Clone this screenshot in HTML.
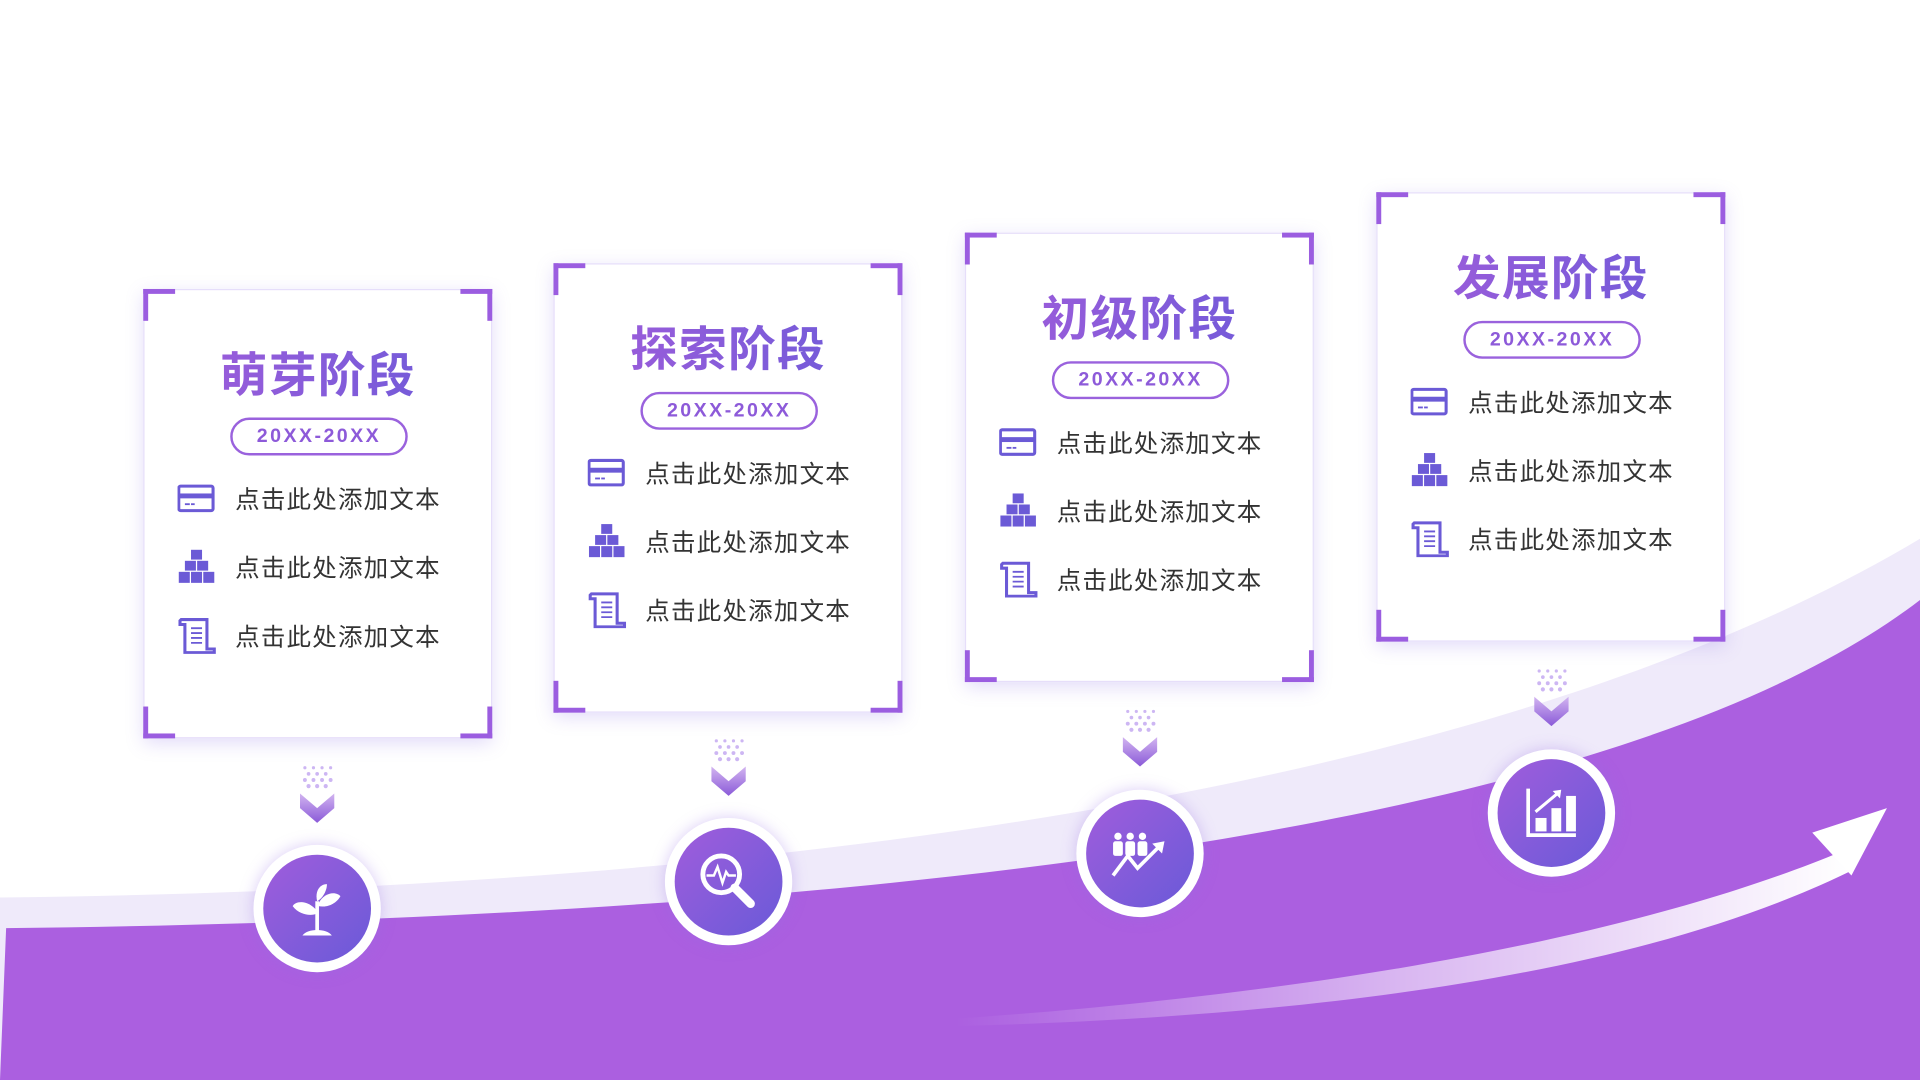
<!DOCTYPE html>
<html><head><meta charset="utf-8"><style>
html,body{margin:0;padding:0;width:1920px;height:1080px;overflow:hidden;background:#fff}
#s{position:absolute;left:0;top:0;width:1568px;height:882px;transform:scale(1.22449);transform-origin:0 0;font-family:"Liberation Sans","Noto Sans CJK SC",sans-serif}
.card{position:absolute;width:285px;height:367px;background:#fff;box-shadow:0 4px 14px rgba(140,110,230,.25);border:1px solid #e6defa;box-sizing:border-box}
.c{position:absolute;width:22px;height:22px;border-color:#9b5de0;border-style:solid;border-width:0}
.tl{left:-1px;top:-1px;border-left-width:4px;border-top-width:4px}
.tr{right:-1px;top:-1px;border-right-width:4px;border-top-width:4px}
.bl{left:-1px;bottom:-1px;border-left-width:4px;border-bottom-width:4px}
.br{right:-1px;bottom:-1px;border-right-width:4px;border-bottom-width:4px}
.t{position:absolute;left:0;width:100%;top:46px;text-align:center;font-size:39px;font-weight:bold;line-height:50px;background:linear-gradient(90deg,#a35cda,#6a5bd9);-webkit-background-clip:text;background-clip:text;color:transparent;letter-spacing:1px}
.p{position:absolute;left:70px;top:104px;width:141px;height:27px;border:2px solid #9a62dd;border-radius:16px;text-align:center;line-height:27px;font-size:16px;font-weight:bold;color:#8d5ad9;letter-spacing:2px}
.r{position:absolute;left:74px;font-size:20px;color:#333;line-height:24px;letter-spacing:1px}
.ic{position:absolute;left:27px;width:32px;height:30px}
.circ{position:absolute;width:104px;height:104px;border-radius:50%;background:#fff;box-shadow:0 0 12px rgba(150,110,230,.35)}
.circ .in{position:absolute;left:8px;top:8px;width:88px;height:88px;border-radius:50%;background:linear-gradient(135deg,#a05ddc,#6a5ad8)}
.circ svg{position:absolute;left:24px;top:24px}
.ar{position:absolute;width:30px;height:52px}
</style></head><body><div id="s">
<svg width="1568" height="882" style="position:absolute;left:0;top:0">
<defs><linearGradient id="wa" x1="0" x2="1" y1="0" y2="0"><stop offset="0" stop-color="#fff" stop-opacity="0"/><stop offset=".5" stop-color="#fff" stop-opacity=".55"/><stop offset="1" stop-color="#fff"/></linearGradient></defs>
<path d="M0,733 C700,725 1250,630 1568,440 L1568,882 L0,882Z" fill="#efeafa"/>
<path d="M5,758 C700,750 1320,680 1568,490 L1568,882 L0,882Z" fill="#ab5fe0"/>
<path d="M780,832 C1100,810 1350,760 1505,695 L1510,712 C1350,790 1100,830 780,838Z" fill="url(#wa)"/>
<path d="M1480,680 L1541,660 L1512,715Z" fill="#fff"/>
</svg>

<!-- cards -->
<div class="card" style="left:117px;top:236px"><i class="c tl"></i><i class="c tr"></i><i class="c bl"></i><i class="c br"></i><div class="t">萌芽阶段</div><div class="p">20XX-20XX</div>
<svg class="ic" style="top:157px" viewBox="0 0 32 30"><rect x="1" y="3" width="28" height="20" rx="1.5" fill="none" stroke="#6b5ad6" stroke-width="2.5"/><rect x="1" y="9" width="28" height="4" fill="#6b5ad6"/><rect x="6" y="17" width="4" height="1.5" fill="#6b5ad6"/><rect x="11" y="17" width="3" height="1.5" fill="#6b5ad6"/></svg><div class="r" style="top:160px">点击此处添加文本</div>
<svg class="ic" style="top:211px" viewBox="0 0 32 30"><rect x="11" y="1" width="9" height="8" fill="#6b5ad6"/><rect x="6" y="10" width="9" height="8" fill="#6b5ad6"/><rect x="16" y="10" width="9" height="8" fill="#6b5ad6"/><rect x="1" y="19" width="9" height="9" fill="#6b5ad6"/><rect x="11" y="19" width="9" height="9" fill="#6b5ad6"/><rect x="21" y="19" width="9" height="9" fill="#6b5ad6"/></svg><div class="r" style="top:216px">点击此处添加文本</div>
<svg class="ic" style="top:267px" viewBox="0 0 32 30"><path d="M3,2 H24 V26 H30 V29 H6 V6 H2 V3Z" fill="none" stroke="#6b5ad6" stroke-width="2.5"/><path d="M11,9H20M11,13H20M11,17H20M11,21H20" stroke="#6b5ad6" stroke-width="1.5"/></svg><div class="r" style="top:272px">点击此处添加文本</div></div>

<div class="card" style="left:452px;top:215px"><i class="c tl"></i><i class="c tr"></i><i class="c bl"></i><i class="c br"></i><div class="t">探索阶段</div><div class="p">20XX-20XX</div>
<svg class="ic" style="top:157px" viewBox="0 0 32 30"><rect x="1" y="3" width="28" height="20" rx="1.5" fill="none" stroke="#6b5ad6" stroke-width="2.5"/><rect x="1" y="9" width="28" height="4" fill="#6b5ad6"/><rect x="6" y="17" width="4" height="1.5" fill="#6b5ad6"/><rect x="11" y="17" width="3" height="1.5" fill="#6b5ad6"/></svg><div class="r" style="top:160px">点击此处添加文本</div>
<svg class="ic" style="top:211px" viewBox="0 0 32 30"><rect x="11" y="1" width="9" height="8" fill="#6b5ad6"/><rect x="6" y="10" width="9" height="8" fill="#6b5ad6"/><rect x="16" y="10" width="9" height="8" fill="#6b5ad6"/><rect x="1" y="19" width="9" height="9" fill="#6b5ad6"/><rect x="11" y="19" width="9" height="9" fill="#6b5ad6"/><rect x="21" y="19" width="9" height="9" fill="#6b5ad6"/></svg><div class="r" style="top:216px">点击此处添加文本</div>
<svg class="ic" style="top:267px" viewBox="0 0 32 30"><path d="M3,2 H24 V26 H30 V29 H6 V6 H2 V3Z" fill="none" stroke="#6b5ad6" stroke-width="2.5"/><path d="M11,9H20M11,13H20M11,17H20M11,21H20" stroke="#6b5ad6" stroke-width="1.5"/></svg><div class="r" style="top:272px">点击此处添加文本</div></div>

<div class="card" style="left:788px;top:190px"><i class="c tl"></i><i class="c tr"></i><i class="c bl"></i><i class="c br"></i><div class="t">初级阶段</div><div class="p">20XX-20XX</div>
<svg class="ic" style="top:157px" viewBox="0 0 32 30"><rect x="1" y="3" width="28" height="20" rx="1.5" fill="none" stroke="#6b5ad6" stroke-width="2.5"/><rect x="1" y="9" width="28" height="4" fill="#6b5ad6"/><rect x="6" y="17" width="4" height="1.5" fill="#6b5ad6"/><rect x="11" y="17" width="3" height="1.5" fill="#6b5ad6"/></svg><div class="r" style="top:160px">点击此处添加文本</div>
<svg class="ic" style="top:211px" viewBox="0 0 32 30"><rect x="11" y="1" width="9" height="8" fill="#6b5ad6"/><rect x="6" y="10" width="9" height="8" fill="#6b5ad6"/><rect x="16" y="10" width="9" height="8" fill="#6b5ad6"/><rect x="1" y="19" width="9" height="9" fill="#6b5ad6"/><rect x="11" y="19" width="9" height="9" fill="#6b5ad6"/><rect x="21" y="19" width="9" height="9" fill="#6b5ad6"/></svg><div class="r" style="top:216px">点击此处添加文本</div>
<svg class="ic" style="top:267px" viewBox="0 0 32 30"><path d="M3,2 H24 V26 H30 V29 H6 V6 H2 V3Z" fill="none" stroke="#6b5ad6" stroke-width="2.5"/><path d="M11,9H20M11,13H20M11,17H20M11,21H20" stroke="#6b5ad6" stroke-width="1.5"/></svg><div class="r" style="top:272px">点击此处添加文本</div></div>

<div class="card" style="left:1124px;top:157px"><i class="c tl"></i><i class="c tr"></i><i class="c bl"></i><i class="c br"></i><div class="t">发展阶段</div><div class="p">20XX-20XX</div>
<svg class="ic" style="top:157px" viewBox="0 0 32 30"><rect x="1" y="3" width="28" height="20" rx="1.5" fill="none" stroke="#6b5ad6" stroke-width="2.5"/><rect x="1" y="9" width="28" height="4" fill="#6b5ad6"/><rect x="6" y="17" width="4" height="1.5" fill="#6b5ad6"/><rect x="11" y="17" width="3" height="1.5" fill="#6b5ad6"/></svg><div class="r" style="top:160px">点击此处添加文本</div>
<svg class="ic" style="top:211px" viewBox="0 0 32 30"><rect x="11" y="1" width="9" height="8" fill="#6b5ad6"/><rect x="6" y="10" width="9" height="8" fill="#6b5ad6"/><rect x="16" y="10" width="9" height="8" fill="#6b5ad6"/><rect x="1" y="19" width="9" height="9" fill="#6b5ad6"/><rect x="11" y="19" width="9" height="9" fill="#6b5ad6"/><rect x="21" y="19" width="9" height="9" fill="#6b5ad6"/></svg><div class="r" style="top:216px">点击此处添加文本</div>
<svg class="ic" style="top:267px" viewBox="0 0 32 30"><path d="M3,2 H24 V26 H30 V29 H6 V6 H2 V3Z" fill="none" stroke="#6b5ad6" stroke-width="2.5"/><path d="M11,9H20M11,13H20M11,17H20M11,21H20" stroke="#6b5ad6" stroke-width="1.5"/></svg><div class="r" style="top:272px">点击此处添加文本</div></div>

<!-- chevrons -->
<svg width="0" height="0" style="position:absolute"><defs><linearGradient id="cg" x1="0" y1="0" x2="0" y2="1"><stop offset="0" stop-color="#d2b4f0"/><stop offset="1" stop-color="#8a5ad8"/></linearGradient>
<g id="chev"><g fill="#b898ee" opacity=".7"><circle cx="5" cy="3" r="1.3"/><circle cx="12" cy="3" r="1.3"/><circle cx="19" cy="3" r="1.3"/><circle cx="26" cy="3" r="1.3"/><circle cx="8" cy="8" r="1.5"/><circle cx="15" cy="8" r="1.5"/><circle cx="22" cy="8" r="1.5"/><circle cx="5" cy="13" r="1.6"/><circle cx="12" cy="13" r="1.6"/><circle cx="19" cy="13" r="1.6"/><circle cx="26" cy="13" r="1.6"/><circle cx="8" cy="18" r="1.7"/><circle cx="15" cy="18" r="1.7"/><circle cx="22" cy="18" r="1.7"/></g><path d="M1,24 L15,36 L29,24 L29,36 L15,48 L1,36Z" fill="url(#cg)"/></g></defs></svg>
<svg class="ar" style="left:244px;top:624px" viewBox="0 0 30 52"><use href="#chev"/></svg>
<svg class="ar" style="left:580px;top:602px" viewBox="0 0 30 52"><use href="#chev"/></svg>
<svg class="ar" style="left:916px;top:578px" viewBox="0 0 30 52"><use href="#chev"/></svg>
<svg class="ar" style="left:1252px;top:545px" viewBox="0 0 30 52"><use href="#chev"/></svg>

<!-- circles -->
<div class="circ" style="left:207px;top:690px"><div class="in"></div><svg width="56" height="56" viewBox="0 0 56 56"><path d="M28,50 V22" stroke="#fff" stroke-width="3"/><path d="M28,30 C20,20 10,22 8,26 C14,34 24,34 28,32Z" fill="#fff"/><path d="M29,24 C34,14 44,14 47,18 C42,26 34,27 29,26Z" fill="#fff"/><path d="M28,22 C26,14 30,8 36,8 C36,14 32,20 28,22Z" fill="#fff"/><path d="M16,50 C20,44 36,44 40,50Z" fill="#fff"/></svg></div>
<div class="circ" style="left:543px;top:668px"><div class="in"></div><svg width="56" height="56" viewBox="0 0 56 56"><circle cx="22" cy="22" r="15" fill="none" stroke="#fff" stroke-width="4"/><path d="M10,23 H16 L19,16 L23,29 L26,20 L28,23 H34" fill="none" stroke="#fff" stroke-width="2"/><path d="M33,33 L46,46" stroke="#fff" stroke-width="7" stroke-linecap="round"/></svg></div>
<div class="circ" style="left:879px;top:645px"><div class="in"></div><svg width="56" height="56" viewBox="0 0 56 56"><g fill="#fff"><circle cx="10" cy="14" r="3"/><circle cx="20" cy="14" r="3"/><circle cx="30" cy="14" r="3"/><rect x="6" y="18" width="8" height="12" rx="2"/><rect x="16" y="18" width="8" height="12" rx="2"/><rect x="26" y="18" width="8" height="12" rx="2"/></g><path d="M6,46 L18,30 L26,40 L44,22" fill="none" stroke="#fff" stroke-width="3"/><path d="M38,20 L48,18 L46,28Z" fill="#fff"/></svg></div>
<div class="circ" style="left:1215px;top:612px"><div class="in"></div><svg width="56" height="56" viewBox="0 0 56 56"><path d="M9,8 V46 H48" fill="none" stroke="#fff" stroke-width="3"/><rect x="15" y="32" width="9" height="11" fill="#fff"/><rect x="28" y="24" width="8" height="19" fill="#fff"/><rect x="40" y="14" width="8" height="29" fill="#fff"/><path d="M15,27 L33,12" stroke="#fff" stroke-width="2.5"/><path d="M29,10 L36,9 L35,16Z" fill="#fff"/></svg></div>
</div></body></html>
